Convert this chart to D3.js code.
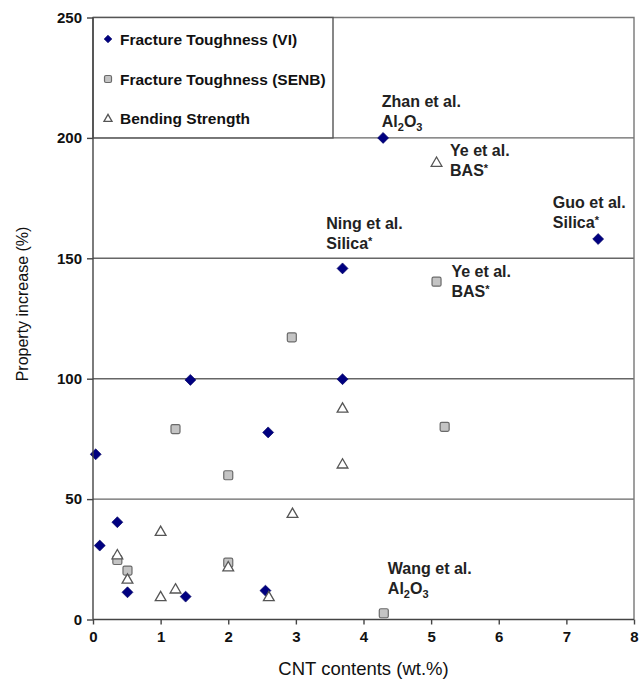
<!DOCTYPE html>
<html>
<head>
<meta charset="utf-8">
<script src="https://cdn.jsdelivr.net/npm/d3@7"></script>
<style>
  body { margin: 0; background: #fff; }
  svg { display: block; font-family: Arial, "Liberation Sans", sans-serif; }
  .tick-label { font-size: 15px; font-weight: bold; fill: #111; }
  .note { font-size: 16px; font-weight: bold; fill: #222; }
  .legend-text { font-size: 15.5px; font-weight: bold; fill: #111; }
</style>
</head>
<body>
<svg id="chart" width="641" height="680"></svg>
<script>
// Fracture toughness, Vickers indentation (diamonds)
const viX = [0.04, 0.1, 0.36, 0.51, 1.37, 1.44, 2.55, 2.59, 3.69, 3.69, 4.29, 7.47];
const viY = [68.6, 30.7, 40.4, 11.3, 9.5, 99.5, 12, 77.7, 99.8, 145.8, 200, 158];

// Fracture toughness, SENB (squares)
const senbX = [0.36, 0.51, 1.22, 2.0, 2.0, 2.94, 4.3, 5.08, 5.2];
const senbY = [24.7, 20.3, 79.1, 59.9, 23.6, 117.2, 2.6, 140.3, 80];

// Bending strength (triangles)
const bendX = [0.36, 0.51, 1.0, 1.0, 1.22, 2.0, 2.6, 2.95, 3.69, 3.69, 5.08];
const bendY = [26.5, 16.4, 36.2, 9.1, 12.3, 21.5, 9.1, 43.7, 87.4, 64.2, 189.5];

const xTicks = [0, 1, 2, 3, 4, 5, 6, 7, 8];
const yTicks = [0, 50, 100, 150, 200, 250];
const gridValues = [50, 100, 150, 200];

const legendLabels = ['Fracture Toughness (VI)', 'Fracture Toughness (SENB)', 'Bending Strength'];

// annotations: anchor in data units (top-left of first line baseline), text lines
const noteX = [4.27, 5.28, 6.80, 3.45, 5.30, 4.36];
const noteY = [213, 192.5, 170.9, 162, 142.2, 18.9];
const noteLine1 = ['Zhan et al.', 'Ye et al.', 'Guo et al.', 'Ning et al.', 'Ye et al.', 'Wang et al.'];
const noteLine2 = ['Al2O3', 'BAS*', 'Silica*', 'Silica*', 'BAS*', 'Al2O3'];

// ---------------------------------------------------------------------------

const W = 641, H = 680;
const m = { top: 17.5, right: 7, bottom: 60.5, left: 93 };
const iW = W - m.left - m.right;
const iH = H - m.top - m.bottom;

const svg = d3.select('#chart');
const g = svg.append('g').attr('transform', `translate(${m.left},${m.top})`);

const x = d3.scaleLinear().domain([0, 8]).range([0, iW]);
const y = d3.scaleLinear().domain([0, 250]).range([iH, 0]);

// gridlines
g.selectAll('.grid')
  .data(gridValues)
  .join('line')
  .attr('x1', 0).attr('x2', iW)
  .attr('y1', d => y(d)).attr('y2', d => y(d))
  .attr('stroke', '#666').attr('stroke-width', 1.4);

// plot border (top + right)
g.append('path')
  .attr('d', `M0,0H${iW}V${iH}`)
  .attr('fill', 'none').attr('stroke', '#777').attr('stroke-width', 1.4);

// legend box
const legW = 240;
g.append('rect')
  .attr('x', 0).attr('y', 0)
  .attr('width', legW).attr('height', y(200))
  .attr('fill', '#fff').attr('stroke', '#555').attr('stroke-width', 1.4);

// markers
const diamond = d3.symbol().type(d3.symbolSquare);
const tri = d3.symbol().type(d3.symbolTriangle);

function drawDiamond(sel, size) {
  return sel.attr('d', diamond.size(size)())
    .attr('fill', '#000080').attr('stroke', '#000060').attr('stroke-width', 0.6);
}
function drawSquare(sel, s) {
  return sel.attr('x', -s / 2).attr('y', -s / 2)
    .attr('width', s).attr('height', s).attr('rx', 1.5)
    .attr('fill', '#c4c4c4').attr('stroke', '#6a6a6a').attr('stroke-width', 1.2);
}
function drawTri(sel, size) {
  return sel.attr('d', tri.size(size)())
    .attr('fill', '#fff').attr('stroke', '#555').attr('stroke-width', 1.3);
}

g.append('g').selectAll('path')
  .data(d3.range(viX.length))
  .join('path')
  .attr('transform', i => `translate(${x(viX[i])},${y(viY[i])}) rotate(45)`)
  .call(drawDiamond, 60);

g.append('g').selectAll('rect')
  .data(d3.range(senbX.length))
  .join('rect')
  .attr('transform', i => `translate(${x(senbX[i])},${y(senbY[i])})`)
  .call(drawSquare, 9);

g.append('g').selectAll('path')
  .data(d3.range(bendX.length))
  .join('path')
  .attr('transform', i => `translate(${x(bendX[i])},${y(bendY[i])})`)
  .call(drawTri, 50);

// legend entries
const leg = g.append('g').attr('transform', 'translate(15,0)');
const legRowY = [21.5, 61.5, 100.5];
legendLabels.forEach((t, i) => {
  const row = leg.append('g').attr('transform', `translate(0,${legRowY[i]})`);
  if (i === 0) row.append('path').attr('transform', 'rotate(45)').call(drawDiamond, 30);
  if (i === 1) row.append('rect').call(drawSquare, 7);
  if (i === 2) row.append('path').attr('transform', 'translate(0,1)').call(drawTri, 28);
  row.append('text').attr('class', 'legend-text')
    .attr('x', 12).attr('y', 5.5).text(t);
});

// annotations with subscripts
noteLine1.forEach((t, i) => {
  const tx = x(noteX[i]), ty = y(noteY[i]);
  const txt = g.append('text').attr('class', 'note').attr('x', tx).attr('y', ty);
  txt.append('tspan').attr('x', tx).text(t);
  const l2 = g.append('text').attr('class', 'note').attr('x', tx).attr('y', ty + 20);
  const line2 = noteLine2[i];
  if (line2 === 'Al2O3') {
    l2.append('tspan').text('Al');
    l2.append('tspan').attr('font-size', 11).attr('dy', 4).text('2');
    l2.append('tspan').attr('dy', -4).text('O');
    l2.append('tspan').attr('font-size', 11).attr('dy', 4).text('3');
  } else {
    const base = line2.replace('*', '');
    l2.append('tspan').text(base);
    l2.append('tspan').attr('font-size', 11).attr('dy', -4).text('*');
  }
});

// axes
const xAxis = g.append('g').attr('transform', `translate(0,${iH})`)
  .call(d3.axisBottom(x).tickValues(xTicks).tickFormat(d3.format('d')).tickSize(5).tickPadding(7));
const yAxis = g.append('g')
  .call(d3.axisLeft(y).tickValues(yTicks).tickFormat(d3.format('d')).tickSize(6).tickPadding(5));

[xAxis, yAxis].forEach(a => {
  a.select('.domain').attr('stroke', '#444').attr('stroke-width', 1.4);
  a.selectAll('.tick line').attr('stroke', '#444').attr('stroke-width', 1.4);
  a.selectAll('.tick text').attr('class', 'tick-label').attr('font-family', null).attr('font-size', null);
});
xAxis.select('.domain').attr('d', `M0,0H${iW}`);
yAxis.select('.domain').attr('d', `M0,0V${iH}`);

// axis titles
svg.append('text')
  .attr('x', m.left + iW / 2).attr('y', 675)
  .attr('text-anchor', 'middle')
  .attr('font-size', 18.5).attr('fill', '#111')
  .text('CNT contents (wt.%)');

svg.append('text')
  .attr('transform', 'translate(28,304) rotate(-90)')
  .attr('text-anchor', 'middle')
  .attr('font-size', 16).attr('fill', '#111')
  .text('Property increase (%)');
</script>
</body>
</html>
